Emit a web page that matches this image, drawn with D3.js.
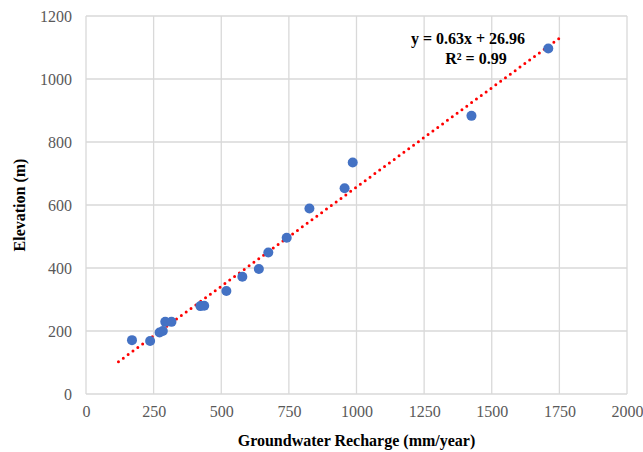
<!DOCTYPE html>
<html>
<head>
<meta charset="utf-8">
<script src="https://cdn.jsdelivr.net/npm/d3@7"></script>
<style>
  body { margin: 0; background: #fff; }
  svg text { font-family: 'Liberation Serif', Tinos, 'Times New Roman', 'DejaVu Serif', serif; }
</style>
</head>
<body>
<div id="chart"></div>
<script>
// data
var recharge = [170, 237, 272, 284, 293, 316, 423, 437, 519, 578, 639, 674, 742, 826, 956, 986, 1425, 1709];
var elevation = [171, 168, 195, 200, 229, 229, 279, 280, 327, 372, 397, 449, 496, 589, 653, 735, 883, 1097];
var xTicks = [0, 250, 500, 750, 1000, 1250, 1500, 1750, 2000];
var yTicks = [0, 200, 400, 600, 800, 1000, 1200];
var slope = 0.63, intercept = 26.96;
var trendRange = [120, 1760];

var width = 643, height = 452;
var margin = { top: 16, right: 16, bottom: 58, left: 86 };
var serif = "'Liberation Serif', Tinos, 'Times New Roman', 'DejaVu Serif', serif";

var svg = d3.select('#chart')
  .append('svg')
  .attr('width', width)
  .attr('height', height);

var x = d3.scaleLinear().domain([0, 2000]).range([margin.left, width - margin.right]);
var y = d3.scaleLinear().domain([0, 1200]).range([height - margin.bottom, margin.top]);

// grid
svg.append('g')
  .selectAll('line.v')
  .data(xTicks)
  .enter().append('line')
  .attr('x1', function(d) { return x(d); })
  .attr('x2', function(d) { return x(d); })
  .attr('y1', y(0))
  .attr('y2', y(1200))
  .attr('stroke', '#d9d9d9')
  .attr('stroke-width', 1.3);

svg.append('g')
  .selectAll('line.h')
  .data(yTicks)
  .enter().append('line')
  .attr('x1', x(0))
  .attr('x2', x(2000))
  .attr('y1', function(d) { return y(d); })
  .attr('y2', function(d) { return y(d); })
  .attr('stroke', '#d9d9d9')
  .attr('stroke-width', 1.3);

// axes (labels only, lines come from grid)
var xAxis = svg.append('g')
  .attr('transform', 'translate(0,' + y(0) + ')')
  .call(d3.axisBottom(x).tickValues(xTicks).tickFormat(d3.format('d')).tickSize(0).tickPadding(12));
var yAxis = svg.append('g')
  .attr('transform', 'translate(' + x(0) + ',0)')
  .call(d3.axisLeft(y).tickValues(yTicks).tickFormat(d3.format('d')).tickSize(0).tickPadding(14));

[xAxis, yAxis].forEach(function(a) {
  a.attr('font-family', serif).attr('font-size', 16);
  a.select('.domain').remove();
  a.selectAll('text')
    .attr('fill', '#595959');
});

// trendline
svg.append('line')
  .attr('x1', x(trendRange[0]))
  .attr('y1', y(slope * trendRange[0] + intercept))
  .attr('x2', x(trendRange[1]))
  .attr('y2', y(slope * trendRange[1] + intercept))
  .attr('stroke', '#ff0000')
  .attr('stroke-width', 3)
  .attr('stroke-linecap', 'round')
  .attr('stroke-dasharray', '0 6');

// points
svg.append('g')
  .selectAll('circle')
  .data(recharge)
  .enter().append('circle')
  .attr('cx', function(d) { return x(d); })
  .attr('cy', function(d, i) { return y(elevation[i]); })
  .attr('r', 5)
  .attr('fill', '#4472c4');

// equation
svg.append('text')
  .attr('x', 468)
  .attr('y', 44)
  .attr('text-anchor', 'middle')
  .attr('font-family', serif)
  .attr('font-size', 16)
  .attr('font-weight', 'bold')
  .text('y = 0.63x + 26.96');
svg.append('text')
  .attr('x', 476)
  .attr('y', 64)
  .attr('text-anchor', 'middle')
  .attr('font-family', serif)
  .attr('font-size', 16)
  .attr('font-weight', 'bold')
  .text('R² = 0.99');

// axis titles
svg.append('text')
  .attr('x', (x(0) + x(2000)) / 2)
  .attr('y', 446)
  .attr('text-anchor', 'middle')
  .attr('font-family', serif)
  .attr('font-size', 16)
  .attr('font-weight', 'bold')
  .text('Groundwater Recharge (mm/year)');

svg.append('text')
  .attr('transform', 'translate(25,' + (y(600)) + ') rotate(-90)')
  .attr('text-anchor', 'middle')
  .attr('font-family', serif)
  .attr('font-size', 16)
  .attr('font-weight', 'bold')
  .text('Elevation (m)');
</script>
</body>
</html>
